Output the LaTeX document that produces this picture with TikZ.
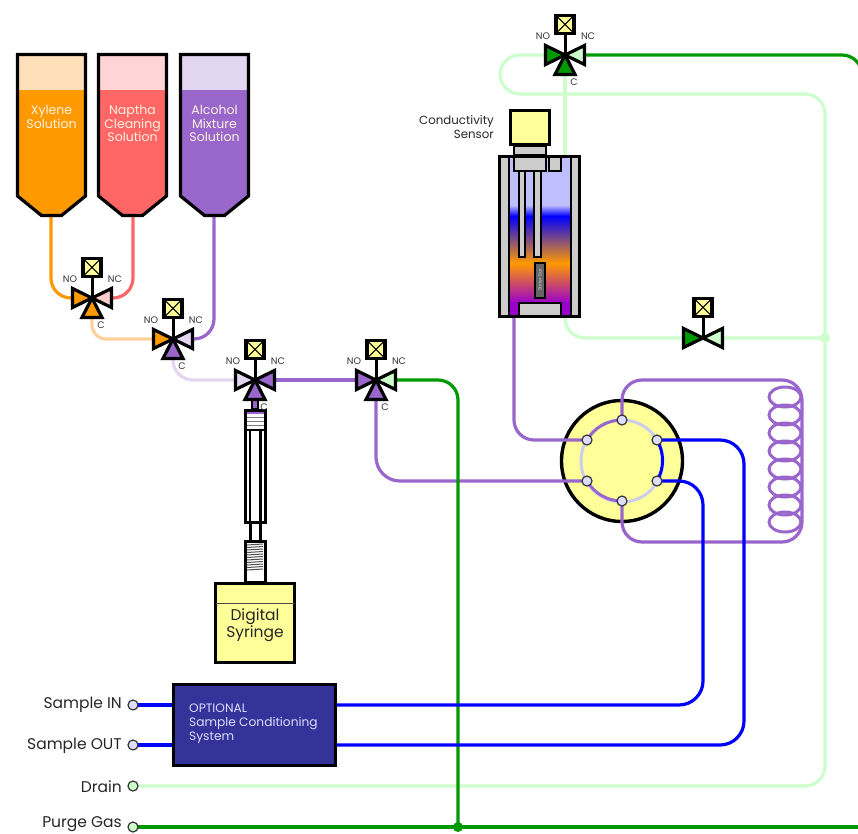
\documentclass[tikz,border=0pt]{standalone}
\usepackage{fontspec}
\setmainfont{Poppins}
\definecolor{cOrange}{HTML}{FF9900}
\definecolor{cOrangeL}{HTML}{FFD09B}
\definecolor{cOrangeT}{HTML}{FFE0BB}
\definecolor{cRed}{HTML}{FF6666}
\definecolor{cRedL}{HTML}{FFCCCC}
\definecolor{cRedT}{HTML}{FFD4D4}
\definecolor{cPurple}{HTML}{9966CC}
\definecolor{cPurpleL}{HTML}{E3D6F0}
\definecolor{cGreen}{HTML}{009900}
\definecolor{cGreenL}{HTML}{CCFFCC}
\definecolor{cBlue}{HTML}{0000FF}
\definecolor{cYellow}{HTML}{FFFF99}
\definecolor{cLav}{HTML}{DDDDFF}
\definecolor{cRing}{HTML}{CCCCEE}
\definecolor{cAir}{HTML}{BFBFFF}
\definecolor{cMag}{HTML}{9900CC}
\definecolor{cNavy}{HTML}{333399}
\definecolor{cGrey}{HTML}{CCCCCC}
\tikzset{
  pipe/.style={line width=3.2pt,rounded corners=20pt},
  part/.style={draw=black,line width=3.2pt,line join=miter},
  thin part/.style={draw=black,line width=1.2pt},
  actbox/.style={draw=black,line width=3.2pt,fill=cYellow,minimum size=18pt,inner sep=0pt,
    path picture={\draw[line width=1pt] (path picture bounding box.north west)--(path picture bounding box.south east)
      (path picture bounding box.north east)--(path picture bounding box.south west);}},
  portdot/.style={circle,draw=black!80,line width=1.2pt,fill=cLav,minimum size=10pt,inner sep=0pt},
  vlabel/.style={font=\fontsize{9.5}{10}\selectfont,text=black!80,inner sep=0pt},
  tanktext/.style={align=center,font=\fontsize{12.5}{13.5}\selectfont,text=white!88!cOrange,inner sep=0pt},
  sidetext/.style={anchor=east,font=\fontsize{15.5}{17}\selectfont,text=black!85,inner sep=0pt},
}
\begin{document}
\begin{tikzpicture}[x=1pt,y=-1pt]
    \useasboundingbox (0,0) rectangle (858,833);
    \clip (0,0) rectangle (858,833);
    % end points
    \foreach \n/\x/\y in {v1/92/298,v2/173/339,v3/255/380,v4/376/380,v5/565/55,v6/703/338}
      \coordinate (\n) at (\x,\y);
    \foreach \n/\x/\y in {p1/622/420,p2/657/440,p3/657/481,p4/622/501,p5/587/481,p6/587/440}
      \coordinate (\n) at (\x,\y);
    \foreach \n/\x/\y in {tank1-out/51/217,tank2-out/133/217,tank3-out/214/217,%
                          sens-out/514/318,sens-drain/565/318,sens-in/565/155,%
                          sin/133/705,sout/133/745,drain/133/786,purge/133/827,%
                          box-in/172/705,box-out/172/745,box-ine/337/705,box-oute/337/745,%
                          purge-j/458/827,drain-j/825/338,%
                          u1/500/55,u2/500/94,u3/825/94,u4/825/786,%
                          gas-c/862/55,gas-e/862/120,gas-r/858/827,%
                          loop-a/802/380,loop-b/802/542}
      \coordinate (\n) at (\x,\y);
    % rotor
    \node[circle,draw=black,line width=3.4pt,fill=cYellow,minimum size=121pt,inner sep=0pt] (rotor) at (622,461) {};
    \draw[line width=3pt,cRing] (rotor.center) circle (41);
    % pipes
    \draw[pipe,cOrange] (tank1-out) |- (v1);
    \draw[pipe,cRed] (tank2-out) |- (v1);
    \draw[pipe,cPurple] (tank3-out) |- (v2);
    \draw[pipe,cOrangeL,rounded corners=14pt] (v1) |- (v2);
    \draw[pipe,cPurpleL,rounded corners=20pt] (v2) |- (v3);
    \draw[pipe,cPurple] (v3) -- (v4);
    \draw[pipe,cPurple,rounded corners=24pt] (v4) |- (p5);
    \draw[pipe,cGreenL] (v5) -- (u1) -- (u2) -- (u3) -- (u4) -- (drain);
    \draw[pipe,cGreenL] (v5) -- (sens-in);
    \draw[pipe,cGreenL] (sens-drain) |- (v6) -- (drain-j);
    \draw[pipe,cPurple] (sens-out) |- (p6);
    \draw[pipe,cPurple] (p1) |- (loop-a) -- (loop-b) -| (p4);
    \foreach \y in {397,415,433,451,469,487,505,522}
      \draw[line width=3pt,cPurple] (785,\y) ellipse [x radius=16,y radius=10];
    \draw[pipe,cGreen] (v4) -| (purge-j);
    \draw[pipe,cGreen] (purge) -- (gas-r);
    \draw[pipe,cGreen] (v5) -- (gas-c) -- (gas-e);
    \draw[pipe,cBlue,rounded corners=24pt] (p2) -| (744,745) -- (box-oute);
    \draw[pipe,cBlue,rounded corners=24pt] (p3) -| (703,705) -- (box-ine);
    \draw[pipe,cBlue] (sin) -- (box-in);
    \draw[pipe,cBlue] (sout) -- (box-out);
    \draw[line width=3pt,cPurple] (p6) to[bend left=30,looseness=0.92] (p1);
    \draw[line width=3pt,cPurple] (p5) to[bend right=30,looseness=0.92] (p4);
    \draw[line width=3pt,cBlue] (p2) to[bend left=30,looseness=0.92] (p3);
    % tanks
    \foreach \n/\x/\c/\l/\t in {tank1/17.5/cOrange/cOrangeT/{Xylene\\Solution},%
                                tank2/98.5/cRed/cRedT/{Naptha\\Cleaning\\Solution},%
                                tank3/180.5/cPurple/cPurpleL/{Alcohol\\Mixture\\Solution}}{
      \fill[\l] (\x,55) rectangle ++(68,36);
      \fill[\c] (\x,90) -- ++(68,0) -- ++(0,106) -- ++(-24,19.5) -- ++(-20,0) -- ++(-24,-19.5) -- cycle;
      \draw[part] (\x,54.5) -- ++(68,0) -- ++(0,141.5) -- ++(-24,19.5) -- ++(-20,0) -- ++(-24,-19.5) -- cycle;
      \node[tanktext,anchor=north] (\n-text) at (\x+34,105.5) {\t};
    }
    % sensor
    \fill[cGrey] (499,156) rectangle (580,317);
    \fill[cAir] (509,156) rectangle (571,205);
    \shade[top color=cAir,bottom color=cBlue] (509,205) rectangle (571,216);
    \shade[top color=cBlue,bottom color=cOrange] (509,216) rectangle (571,263);
    \shade[top color=cOrange,bottom color=cMag] (509,263) rectangle (571,303);
    \fill[cMag] (509,303) rectangle (571,317);
    \draw[thin part,fill=cGrey] (519,303) rectangle (561,317);
    \draw[thin part,fill=cGrey] (519,171) rectangle (525,257);
    \draw[thin part,fill=cGrey] (534,171) rectangle (541,257);
    \draw[thin part,fill=cGrey] (514,156) rectangle (546,171);
    \draw[thin part,fill=cGrey] (549,156) rectangle (561,171);
    \draw[thin part,fill=black!60] (535,263) rectangle (545,298);
    \node[rotate=90,font=\fontsize{4.5}{5}\selectfont,text=cGrey,inner sep=0pt] (stir) at (540,280) {Stirrer Bar};
    \draw[thin part] (509,156) -- (509,317) (571,156) -- (571,317);
    \draw[part] (499.5,156.5) rectangle (579.5,316.5);
    \draw[part,line width=2pt,fill=cGrey] (514,146) rectangle (546,155);
    \draw[part,fill=cYellow] (510.5,110.5) rectangle (549.5,144.5);
    \node[sidetext,align=right,font=\fontsize{11.8}{13.5}\selectfont] (sens-text) at (494,127) {Conductivity\\Sensor};
    % syringe
    \draw[part,line width=2pt,fill=cPurple] (252,399) rectangle (258,409);
    \draw[part,line width=3pt,fill=white] (245,410) rectangle (265,522);
    \fill[cPurple] (246.5,411.5) rectangle (263.5,414);
    \foreach \y in {417,421,425}
      \draw[black!50,line width=1pt] (246.5,\y) -- (263.5,\y);
    \draw[line width=2.2pt] (245,430) -- (265,430) (250,430) -- (250,522) (260.5,430) -- (260.5,522);
    \draw[part,line width=3pt,fill=white] (250,522) rectangle (260.5,541);
    \draw[part,line width=3pt,fill=white] (245,541) rectangle (265,582);
    \foreach \y in {544,546.5,...,571}
      \draw[black!70,line width=1pt] (247,\y+1) -- (263,\y);
    \node[part,fill=cYellow,minimum width=79pt,minimum height=79pt,inner sep=0pt,outer sep=0pt] (syr) at (255,623) {};
    \draw[black!70,line width=1pt] (216,603) -- (294,603);
    \node[align=center,font=\fontsize{15.5}{15.5}\selectfont,text=black!85,inner sep=0pt] (syr-text) at (255,625) {Digital\\Syringe};
    % conditioning box
    \node[part,fill=cNavy,minimum width=161.5pt,minimum height=80.5pt,inner sep=0pt,outer sep=0pt] (cond) at (254.5,725) {};
    \node[anchor=west,align=left,font=\fontsize{12.2}{14}\selectfont,text=cLav,inner sep=0pt] (cond-text) at (189,724) {OPTIONAL\\Sample Conditioning\\System};
    % valves
    \foreach \n/\l/\r/\b in {v1/cOrange/cRedL/cOrange,v2/cOrange/cPurpleL/cPurple,v3/cPurpleL/cPurple/cPurple,%
                             v4/cPurple/cGreenL/cPurple,v5/cGreen/cGreenL/cGreen}{
      \node[actbox,anchor=south] (\n-act) at ([yshift=20pt]\n) {};
      \draw[line width=3pt] (\n) -- (\n-act);
      \draw[part,fill=\l] (\n) -- ++(-19.5,-9.5) -- ++(0,19) -- cycle;
      \draw[part,fill=\r] (\n) -- ++(19.5,-9.5) -- ++(0,19) -- cycle;
      \draw[part,fill=\b] (\n) -- ++(-10,19.5) -- ++(20,0) -- cycle;
      \node[vlabel] (\n-no) at ([xshift=-22pt,yshift=19pt]\n) {NO};
      \node[vlabel] (\n-nc) at ([xshift=23pt,yshift=19pt]\n) {NC};
      \node[vlabel] (\n-c) at ([xshift=9pt,yshift=-27pt]\n) {C};
    }
    \node[actbox,anchor=south] (v6-act) at ([yshift=20pt]v6) {};
    \draw[line width=3pt] (v6) -- (v6-act);
    \draw[part,fill=cGreen] (v6) -- ++(-19.5,-9.5) -- ++(0,19) -- cycle;
    \draw[part,fill=cGreenL] (v6) -- ++(19.5,-9.5) -- ++(0,19) -- cycle;
    % ports and dots
    \foreach \n in {p1,p2,p3,p4,p5,p6,sin,sout}
      \node[portdot] (\n-dot) at (\n) {};
    \node[portdot,fill=cGreenL] (drain-dot) at (drain) {};
    \node[portdot,fill=cGreenL] (purge-dot) at (purge) {};
    \fill[cGreen] (purge-j) circle (5);
    \fill[cGreenL] (drain-j) circle (5);
    \node[sidetext] (sin-text) at (122,705) {Sample IN};
    \node[sidetext] (sout-text) at (122,746) {Sample OUT};
    \node[sidetext] (drain-text) at (122,787) {Drain};
    \node[sidetext] (purge-text) at (122,824.5) {Purge Gas};
  \end{tikzpicture}
\end{document}
